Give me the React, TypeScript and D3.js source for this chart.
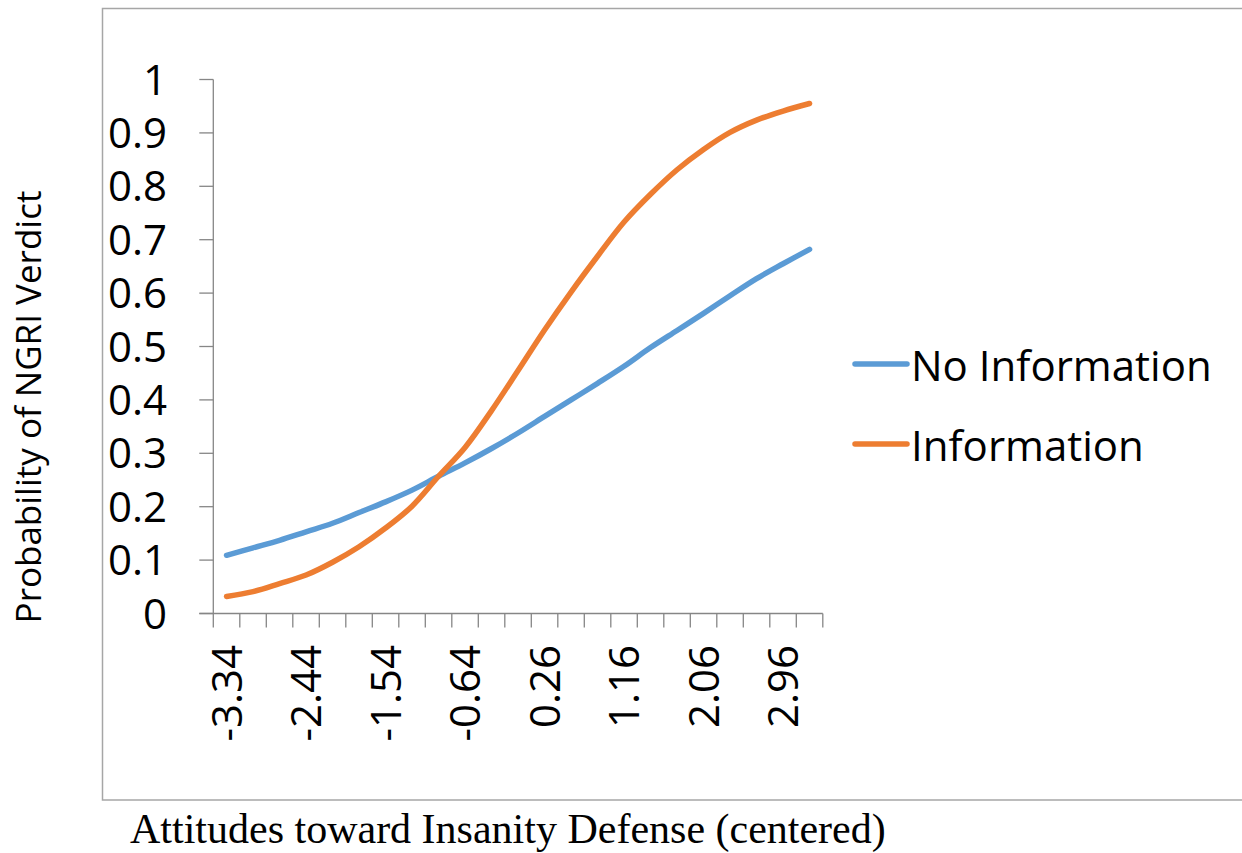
import React from 'react';
import * as d3 from 'd3';

// attitude scores (centered), one per category
const attitudes = [
  '-3.34', '-3.04', '-2.74', '-2.44', '-2.14', '-1.84', '-1.54', '-1.24',
  '-0.94', '-0.64', '-0.34', '-0.04', '0.26', '0.56', '0.86', '1.16',
  '1.46', '1.76', '2.06', '2.36', '2.66', '2.96', '3.26',
];

const noInformation = [
  0.109, 0.123, 0.137, 0.153, 0.169, 0.189, 0.209, 0.231, 0.257, 0.282, 0.309, 0.338,
  0.369, 0.4, 0.431, 0.463, 0.498, 0.53, 0.562, 0.595, 0.627, 0.655, 0.682,
];

const information = [
  0.032, 0.041, 0.056, 0.072, 0.096, 0.125, 0.16, 0.201, 0.257, 0.311, 0.38, 0.455,
  0.531, 0.602, 0.669, 0.733, 0.785, 0.831, 0.869, 0.901, 0.924, 0.941, 0.955,
];

const yTicks = [0, 0.1, 0.2, 0.3, 0.4, 0.5, 0.6, 0.7, 0.8, 0.9, 1];

const series = [
  { name: 'No Information', values: noInformation, color: '#5B9BD5' },
  { name: 'Information', values: information, color: '#ED7D31' },
];

const W = 1242;
const H = 853;
const sans = "'Open Sans', 'Noto Sans', sans-serif";
const axisColor = '#868686';

export default function App() {
  const x = d3.scaleBand<string>().domain(attitudes).range([213.3, 822.8]);
  const y = d3.scaleLinear().domain([0, 1]).range([613.5, 79.5]);
  const cx = (d: string) => (x(d) ?? 0) + x.bandwidth() / 2;

  const line = d3
    .line<number>()
    .x((_, i) => cx(attitudes[i]))
    .y(d => y(d))
    .curve(d3.curveCatmullRom.alpha(0.5));

  const tickEdges = attitudes.map(d => x(d) ?? 0).concat([x.range()[1]]);

  return (
    <svg
      width={W}
      height={H}
      style={{ position: 'absolute', left: 0, top: 0, background: '#fff' }}
    >
      {/* chart frame */}
      <rect x={102.5} y={8.5} width={1200} height={791.5} fill="none" stroke="#a6a6a6" strokeWidth={1.5} />

      {/* y axis */}
      <line x1={x.range()[0]} x2={x.range()[0]} y1={y(1)} y2={y(0)} stroke={axisColor} strokeWidth={1.3} />
      {yTicks.map(t => (
        <g key={t}>
          <line x1={x.range()[0] - 14} x2={x.range()[0]} y1={y(t)} y2={y(t)} stroke={axisColor} strokeWidth={1.3} />
          <text x={167} y={y(t) + 15} textAnchor="end" fontFamily={sans} fontSize={42} fill="#000">
            {d3.format('~g')(t)}
          </text>
        </g>
      ))}

      {/* x axis */}
      <line x1={x.range()[0] - 14} x2={x.range()[1]} y1={y(0)} y2={y(0)} stroke={axisColor} strokeWidth={1.3} />
      {tickEdges.map((e, i) => (
        <line key={i} x1={e} x2={e} y1={y(0)} y2={y(0) + 14} stroke={axisColor} strokeWidth={1.3} />
      ))}
      {attitudes.map((d, i) =>
        i % 3 === 0 ? (
          <text
            key={d}
            transform={`translate(${cx(d) + 15},645) rotate(-90)`}
            textAnchor="end"
            fontFamily={sans}
            fontSize={42}
            fill="#000"
          >
            {d}
          </text>
        ) : null,
      )}

      {/* series */}
      {series.map(s => (
        <path
          key={s.name}
          d={line(s.values) ?? ''}
          fill="none"
          stroke={s.color}
          strokeWidth={5.5}
          strokeLinecap="round"
          strokeLinejoin="round"
        />
      ))}

      {/* legend */}
      {series.map((s, i) => (
        <g key={s.name} transform={`translate(0,${364 + i * 80})`}>
          <line x1={855} x2={907} y1={0} y2={0} stroke={s.color} strokeWidth={5.5} strokeLinecap="round" />
          <text x={911} y={17} fontFamily={sans} fontSize={42} fill="#000">
            {s.name}
          </text>
        </g>
      ))}

      {/* axis titles */}
      <text
        transform="translate(41,407) rotate(-90)"
        textAnchor="middle"
        fontFamily={sans}
        fontSize={35}
        fill="#000"
      >
        Probability of NGRI Verdict
      </text>
      <text x={130} y={843} fontFamily="'Liberation Serif', 'DejaVu Serif', serif" fontSize={42} fill="#000">
        Attitudes toward Insanity Defense (centered)
      </text>
    </svg>
  );
}
